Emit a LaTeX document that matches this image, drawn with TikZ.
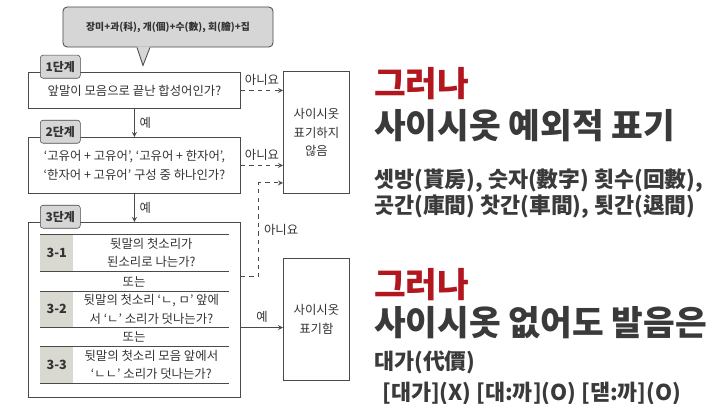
\documentclass[tikz,border=0pt]{standalone}
\usepackage{fontspec}
\setmainfont{Noto Sans CJK KR}
\usepackage{tikz}
\usetikzlibrary{shapes,arrows,positioning,calc}

\definecolor{linegray}{HTML}{4A4A4A}
\definecolor{tagfill}{HTML}{D6D6D6}
\definecolor{cellfill}{HTML}{D9D9D2}
\definecolor{headred}{HTML}{B2161E}
\definecolor{headgray}{HTML}{3A3A3A}

\tikzset{
  every node/.style={font=\fontsize{8.8}{13.2}\selectfont, text=black!80},
  box/.style={draw=linegray, line width=0.6pt, rectangle, inner sep=0pt, anchor=north west, minimum width=5.3cm, align=center},
  sidebox/.style={draw=linegray, line width=0.6pt, rectangle, inner sep=0pt, anchor=north west, minimum width=1.65cm, minimum height=3.05cm, align=center},
  tag/.style={draw=linegray, fill=tagfill, rounded corners=2pt, minimum width=1cm, minimum height=0.575cm, inner sep=0pt, anchor=south west, font=\fontsize{8.5}{10}\selectfont\bfseries},
  rowlab/.style={fill=cellfill, minimum width=0.825cm, inner sep=0pt, anchor=north west, font=\fontsize{9}{10}\selectfont\bfseries},
  rowtxt/.style={minimum width=3.875cm, inner sep=0pt, anchor=west, align=center},
  yesarrow/.style={draw=linegray, line width=0.6pt, -stealth},
  noarrow/.style={draw=linegray, line width=0.6pt, dashed, -stealth},
  head/.style={anchor=west, inner sep=0pt, font=\fontsize{24.5}{28}\selectfont\bfseries},
  sub/.style={anchor=west, inner sep=0pt, font=\fontsize{15.5}{18.5}\selectfont\bfseries, text=headgray},
}

\begin{document}
\begin{tikzpicture}[x=0.025cm, y=-0.025cm]
\useasboundingbox (0,0) rectangle (716,403);

% bubble
\node[draw=linegray, line width=0.6pt, fill=tagfill, rounded corners=3pt, minimum width=5.25cm, minimum height=1cm, font=\fontsize{7}{10}\selectfont\bfseries] (bub) at (168,27) {장미+과(科), 개(個)+수(數), 회(膾)+집};
\fill[tagfill] ($(bub.south)+(-31,-1)$) -- ($(bub.south)+(-25,18)$) -- ($(bub.south)+(-18,-1)$) -- cycle;
\draw[linegray, line width=0.6pt] ($(bub.south)+(-31,0)$) -- ($(bub.south)+(-25,18)$) -- ($(bub.south)+(-18,0)$);

% steps
\node[box, minimum height=0.9cm] (s1) at (28,72) {앞말이 모음으로 끝난 합성어인가?};
\node[tag] (t1) at ($(s1.north west)+(12,6.5)$) {1단계};

\node[box, minimum height=1.4cm] (s2) at (28,137) {‘고유어 + 고유어’, ‘고유어 + 한자어’,\\‘한자어 + 고유어’ 구성 중 하나인가?};
\node[tag] (t2) at ($(s2.north west)+(12,6.5)$) {2단계};

\node[box, minimum height=4.375cm] (s3) at (28,222) {};
\node[tag] (t3) at ($(s3.north west)+(12,6.5)$) {3단계};

\node[rowlab, minimum height=0.925cm] (l31) at (40,234) {3-1};
\node[rowtxt, minimum height=0.925cm] (r31) at (l31.east) {뒷말의 첫소리가\\된소리로 나는가?};
\node (or1) at (134,282) {또는};
\node[rowlab, minimum height=0.9cm] (l32) at (40,291) {3-2};
\node[rowtxt, minimum height=0.9cm] (r32) at (l32.east) {뒷말의 첫소리 ‘ㄴ, ㅁ’ 앞에\\서 ‘ㄴ’ 소리가 덧나는가?};
\node (or2) at (134,337) {또는};
\node[rowlab, minimum height=0.925cm] (l33) at (40,346) {3-3};
\node[rowtxt, minimum height=0.925cm] (r33) at (l33.east) {뒷말의 첫소리 모음 앞에서\\‘ㄴㄴ’ 소리가 덧나는가?};

\foreach \r in {31,32,33} {
  \draw[linegray, line width=0.6pt] (l\r.north west) -- (r\r.north east);
  \draw[linegray, line width=0.6pt] (l\r.south west) -- (r\r.south east);
}

% results
\node[sidebox] (n1) at (283,71) {사이시옷\\표기하지\\않음};
\node[sidebox] (n2) at (283,258) {사이시옷\\표기함};

\draw[yesarrow] (s1.south) -- node[right] {예} (s2.north);
\draw[yesarrow] (s2.south) -- node[right] {예} (s3.north);
\draw[noarrow] (s1.east) -- node[above] {아니요} (s1.east -| n1.west);
\draw[noarrow] (s2.east) -- node[above] {아니요} (s2.east -| n1.west);
\coordinate (c3) at ($(s3.east |- r31.south)+(0,5)$);
\coordinate (c4) at ($(n1.south west)+(0,-11)$);
\draw[noarrow] (c3) -- ++(18,0) |- node[pos=0.25, right] {아니요} (c4);
\draw[yesarrow] (s3.east |- r32.south) -- node[above] {예} (n2.west |- r32.south);

% right side
\node[head, text=headred] (h1) at (374,84) {그러나};
\node[head, text=headgray] (h2) at (374,126) {사이시옷 예외적 표기};
\node[sub, align=left] (e1) at (374,194) {셋방(貰房), 숫자(數字) 횟수(回數),\\곳간(庫間) 찻간(車間), 툇간(退間)};

\node[head, text=headred] (h3) at (374,285) {그러나};
\node[head, text=headgray] (h4) at (374,323) {사이시옷 없어도 발음은};
\node[sub] (e2) at (374,362) {대가(代價)};
\node[sub] (e3) at (382,394) {[대가](X) [대:까](O) [댇:까](O)};

\end{tikzpicture}
\end{document}
